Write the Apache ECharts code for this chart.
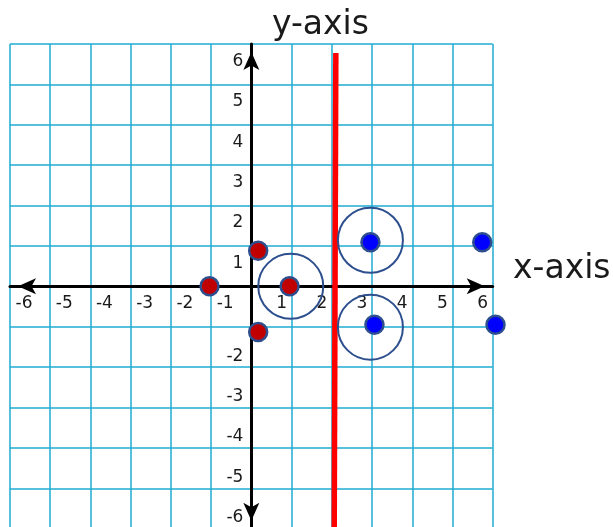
<!DOCTYPE html>
<html><head><meta charset="utf-8">
<script src="https://cdn.jsdelivr.net/npm/echarts@6/dist/echarts.min.js"></script>
<style>html,body{margin:0;padding:0;background:#fff}#c{width:613px;height:527px}</style>
</head><body><div id="c"></div>
<script>
// ---- data ----
const axisMin = -6;
const axisMax = 6;
const tickStep = 1;
const redPoints = [[-1.04, 0], [0.17, 0.88], [0.17, -1.13], [0.95, 0]];
const bluePoints = [[2.96, 1.09], [5.74, 1.09], [3.06, -0.95], [6.07, -0.95]];
const circleCenters = [[0.98, 0], [2.96, 1.14], [2.96, -1.01]];
const redLine = [[2.10, 5.78], [2.06, -6]];
const hiddenXLabels = [0];
const hiddenYLabels = [0, -1];
const xAxisName = 'x-axis';
const yAxisName = 'y-axis';

// ---- chart ----
const FONT = 'DejaVu Sans';
const chart = echarts.init(document.getElementById('c'), null, {renderer: 'canvas'});
const gridColor = '#1fabd2';
const borderBlue = '#2d4f8e';
const labelColor = '#1a1a1a';
const GW = 482.7, GH = 484.7;

chart.setOption({
  animation: false,
  backgroundColor: '#ffffff',
  title: [
    {text: yAxisName, left: 267, top: 4, textStyle: {fontFamily: FONT, fontSize: 33, fontWeight: 'normal', color: labelColor}},
    {text: xAxisName, left: 508, top: 248, textStyle: {fontFamily: FONT, fontSize: 33, fontWeight: 'normal', color: labelColor}}
  ],
  grid: {left: 10, top: 44, width: GW, height: GH, containLabel: false, outerBoundsMode: 'none', show: false},
  xAxis: {
    type: 'value', min: axisMin, max: axisMax, interval: tickStep,
    position: 'bottom', offset: -GH / 2,
    axisLine: {onZero: false, lineStyle: {color: '#000', width: 3},
      symbol: ['arrow', 'arrow'], symbolSize: [12, 18], symbolOffset: [8, -8]},
    axisTick: {show: false},
    splitLine: {show: true, showMinLine: true, showMaxLine: true, lineStyle: {color: gridColor, width: 1.5}},
    axisLabel: {
      margin: 9, hideOverlap: false,
      fontFamily: FONT, fontSize: 17, color: labelColor,
      formatter: v => hiddenXLabels.indexOf(v) >= 0 ? '' : (v < 0 ? '{neg|' + v + '}' : '{pos|' + v + '}'),
      rich: {
        neg: {fontFamily: FONT, fontSize: 17, color: labelColor, padding: [0, 0, 0, 28]},
        pos: {fontFamily: FONT, fontSize: 17, color: labelColor, padding: [0, 20, 0, 0]}
      }
    }
  },
  yAxis: {
    type: 'value', min: axisMin, max: axisMax, interval: tickStep,
    position: 'left', offset: -GW / 2,
    axisLine: {onZero: false, lineStyle: {color: '#000', width: 3},
      symbol: ['arrow', 'arrow'], symbolSize: [12, 18], symbolOffset: [8, -8]},
    axisTick: {show: false},
    splitLine: {show: true, showMinLine: true, showMaxLine: true, lineStyle: {color: gridColor, width: 1.5}},
    axisLabel: {
      margin: 8, hideOverlap: false,
      fontFamily: FONT, fontSize: 17, color: labelColor,
      formatter: v => hiddenYLabels.indexOf(v) >= 0 ? '' : (v < 0 ? '{neg|' + v + '}' : '{pos|' + v + '}'),
      rich: {
        neg: {fontFamily: FONT, fontSize: 17, color: labelColor, padding: [0, 0, 22, 0]},
        pos: {fontFamily: FONT, fontSize: 17, color: labelColor, padding: [35, 0, 0, 0]}
      }
    }
  },
  series: [
    {
      type: 'line', data: redLine, symbol: 'none', clip: true,
      lineStyle: {color: '#ff0000', width: 5.5}, z: 3
    },
    {
      type: 'scatter', data: circleCenters, symbol: 'circle', symbolSize: 65, clip: false,
      itemStyle: {color: 'rgba(0,0,0,0)', borderColor: borderBlue, borderWidth: 2, opacity: 1}, z: 4
    },
    {
      type: 'scatter', data: redPoints, symbol: 'circle', symbolSize: 18, clip: false,
      itemStyle: {color: '#c00000', borderColor: borderBlue, borderWidth: 2.5, opacity: 1}, z: 5
    },
    {
      type: 'scatter', data: bluePoints, symbol: 'circle', symbolSize: 18, clip: false,
      itemStyle: {color: '#0000ff', borderColor: borderBlue, borderWidth: 2.5, opacity: 1}, z: 5
    }
  ]
});
</script>
</body></html>
